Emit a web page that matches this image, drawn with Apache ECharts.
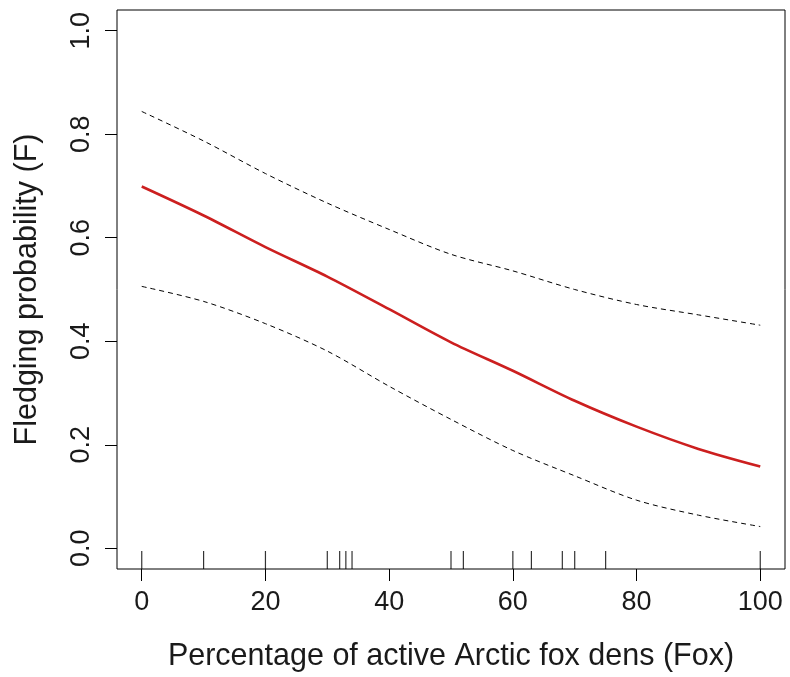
<!DOCTYPE html>
<html>
<head>
<meta charset="utf-8">
<script src="https://cdn.jsdelivr.net/npm/echarts@6/dist/echarts.min.js"></script>
<style>
  html, body { margin: 0; padding: 0; background: #fff; }
  #chart { width: 790px; height: 677px; }
</style>
</head>
<body>
<div id="chart"></div>
<script>
// Fledging probability vs. active Arctic fox dens (fit + confidence band + rug)

const foxPct = [0, 10, 20, 30, 40, 50, 60, 70, 80, 90, 100];
const fitted = [0.699, 0.643, 0.582, 0.525, 0.462, 0.398, 0.343, 0.285, 0.235, 0.192, 0.158];
const upperCI = [0.844, 0.787, 0.724, 0.667, 0.616, 0.568, 0.536, 0.500, 0.471, 0.451, 0.431];
const lowerCI = [0.506, 0.477, 0.434, 0.381, 0.313, 0.249, 0.189, 0.140, 0.093, 0.064, 0.042];
// observed Fox values shown as rug marks
const rugFox = [0, 10, 20, 30, 32, 33, 34, 50, 52, 60, 63, 68, 70, 75, 100];

const xTicks = [0, 20, 40, 60, 80, 100];
const yTicks = [0, 0.2, 0.4, 0.6, 0.8, 1.0];

const font = 'Liberation Sans, Arial, sans-serif';
const ink = '#1a1a1a';

const pairs = ys => foxPct.map((x, i) => [x, ys[i]]);

const chart = echarts.init(document.getElementById('chart'));
chart.setOption({
  animation: false,
  grid: {
    left: 117, right: 5, top: 10, bottom: 104,
    show: true, borderColor: '#000', borderWidth: 1, backgroundColor: 'transparent'
  },
  xAxis: {
    type: 'value', min: -4, max: 104,
    splitLine: { show: false },
    axisLine: { show: false, onZero: false },
    axisTick: { customValues: xTicks, length: 12, lineStyle: { color: '#000', width: 1 } },
    axisLabel: { customValues: xTicks, margin: 20, fontSize: 27, fontFamily: font, color: ink },
    name: 'Percentage of active Arctic fox dens (Fox)',
    nameLocation: 'middle', nameGap: 72,
    nameTextStyle: { fontSize: 30.5, fontFamily: font, color: ink }
  },
  yAxis: {
    type: 'value', min: -0.04, max: 1.04,
    splitLine: { show: false },
    axisLine: { show: false, onZero: false },
    axisTick: { customValues: yTicks, length: 12, lineStyle: { color: '#000', width: 1 } },
    axisLabel: {
      customValues: yTicks, margin: 22, rotate: 90, fontSize: 27, fontFamily: font, color: ink,
      formatter: v => v.toFixed(1)
    },
    name: 'Fledging probability (F)',
    nameLocation: 'middle', nameGap: 74, nameRotate: 90,
    nameTextStyle: { fontSize: 30.5, fontFamily: font, color: ink }
  },
  series: [
    {
      type: 'line', data: pairs(upperCI), smooth: 0.3, symbol: 'none',
      lineStyle: { color: '#000', width: 1, type: [5, 4] }
    },
    {
      type: 'line', data: pairs(lowerCI), smooth: 0.3, symbol: 'none',
      lineStyle: { color: '#000', width: 1, type: [5, 4] }
    },
    {
      type: 'line', data: pairs(fitted), smooth: 0.3, symbol: 'none',
      lineStyle: { color: '#cc1f1f', width: 2.6 }
    },
    {
      type: 'scatter', clip: false, silent: true,
      data: rugFox.map(x => [x, -0.04]),
      symbol: 'rect', symbolSize: [1.2, 18], symbolOffset: [0, -9],
      itemStyle: { color: '#000' }
    }
  ]
});
</script>
</body>
</html>
